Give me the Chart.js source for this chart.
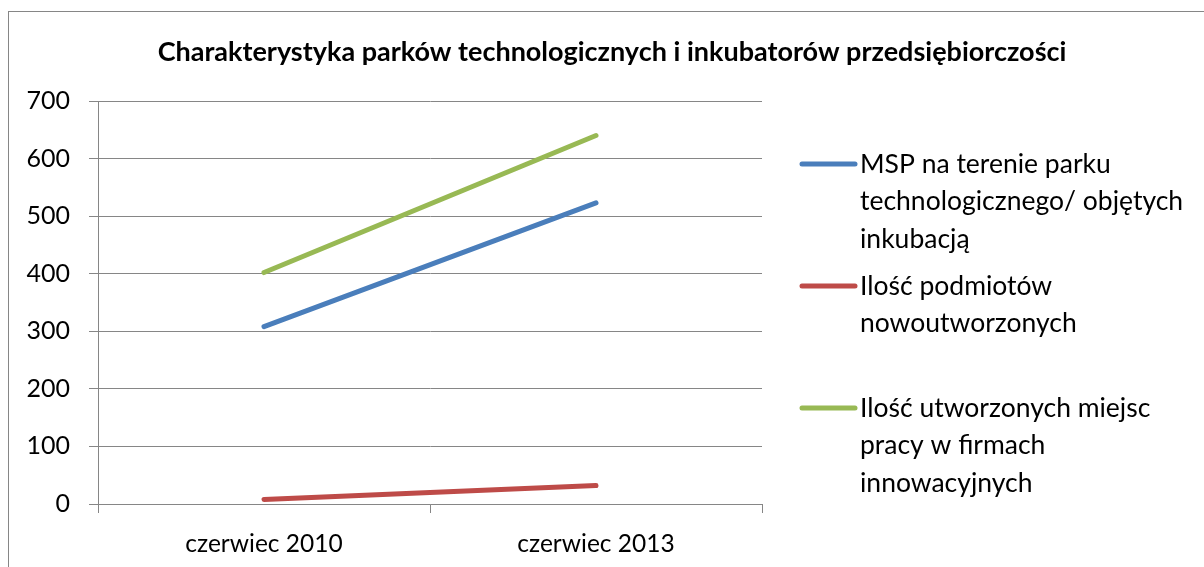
<!DOCTYPE html>
<html>
<head>
<meta charset="utf-8">
<script src="https://cdn.jsdelivr.net/npm/chart.js@4/dist/chart.umd.min.js"></script>
<style>
  html, body { margin: 0; padding: 0; background: #fff; overflow: hidden; }
  #wrap { position: relative; width: 1204px; height: 567px; }
  #frame { position: absolute; left: 8px; top: 11px; width: 1300px; height: 700px; border: 1px solid #868686; box-sizing: border-box; pointer-events: none; }
  canvas { position: absolute; left: 0; top: 0; }
</style>
</head>
<body>
<div id="wrap">
  <canvas id="chart" width="1204" height="567"></canvas>
  <div id="frame"></div>
</div>
<script>
const chartTitle = 'Charakterystyka parków technologicznych i inkubatorów przedsiębiorczości';
const categories = ['czerwiec 2010', 'czerwiec 2013'];
const seriesNames = [
  'MSP na terenie parku technologicznego/ objętych inkubacją',
  'Ilość podmiotów nowoutworzonych',
  'Ilość utworzonych miejsc pracy w firmach innowacyjnych'
];
const mspValues = [308, 523];
const newEntities = [8, 32];
const newJobs = [402, 640];
const seriesColors = ['#4a7ebb', '#be4b48', '#98b954'];

const FONT = 'Lato, "Liberation Sans", sans-serif';

// title + legend drawn by hand: the title is centred on the whole frame,
// and the built-in legend can't wrap long labels
const sideLegend = {
  id: 'sideLegend',
  afterDraw(chart) {
    const ctx = chart.ctx;
    ctx.save();
    ctx.fillStyle = '#000';
    ctx.textBaseline = 'middle';
    ctx.textAlign = 'center';
    ctx.font = 'bold 27px ' + FONT;
    ctx.fillText(chartTitle, 612, 52);

    ctx.textAlign = 'left';
    ctx.font = '26.5px ' + FONT;
    chart.data.datasets.forEach((ds, i) => {
      const y = 164 + i * 122;
      ctx.strokeStyle = ds.borderColor;
      ctx.lineWidth = 5;
      ctx.lineCap = 'round';
      ctx.beginPath();
      ctx.moveTo(802, y);
      ctx.lineTo(855, y);
      ctx.stroke();
      const words = ds.label.split(' ');
      const lines = [];
      let cur = '';
      words.forEach(w => {
        const test = cur ? cur + ' ' + w : w;
        if (ctx.measureText(test).width > 335 && cur) {
          lines.push(cur);
          cur = w;
        } else cur = test;
      });
      lines.push(cur);
      lines.forEach((ln, k) => ctx.fillText(ln, 860, y + k * 37.5));
    });
    ctx.restore();
  }
};

new Chart('chart', {
  type: 'line',
  data: {
    labels: categories,
    datasets: [
      { label: seriesNames[0], data: mspValues, borderColor: seriesColors[0] },
      { label: seriesNames[1], data: newEntities, borderColor: seriesColors[1] },
      { label: seriesNames[2], data: newJobs, borderColor: seriesColors[2] }
    ].map(d => Object.assign(d, {
      borderWidth: 5, pointRadius: 0, borderCapStyle: 'round', fill: false, tension: 0
    }))
  },
  options: {
    responsive: false,
    animation: false,
    layout: { padding: { left: 0, right: 442, top: 101, bottom: 0 } },
    plugins: {
      legend: { display: false },
      tooltip: { enabled: false },
      title: { display: false }
    },
    scales: {
      x: {
        offset: true,
        grid: { offset: true, drawOnChartArea: false, drawTicks: true, tickLength: 9, color: '#868686', lineWidth: 1 },
        border: { display: true, color: '#868686', width: 1 },
        ticks: { color: '#000', font: { family: FONT, size: 24.5 }, padding: 16 },
        afterFit(s) { s.height = 63; }
      },
      y: {
        min: 0,
        max: 700,
        ticks: { stepSize: 100, color: '#000', font: { family: FONT, size: 25 }, padding: 19 },
        grid: { color: '#868686', lineWidth: 1, drawTicks: true, tickLength: 9 },
        border: { display: true, color: '#868686', width: 1 },
        afterFit(s) { s.width = 98; }
      }
    }
  },
  plugins: [sideLegend]
});
</script>
</body>
</html>
